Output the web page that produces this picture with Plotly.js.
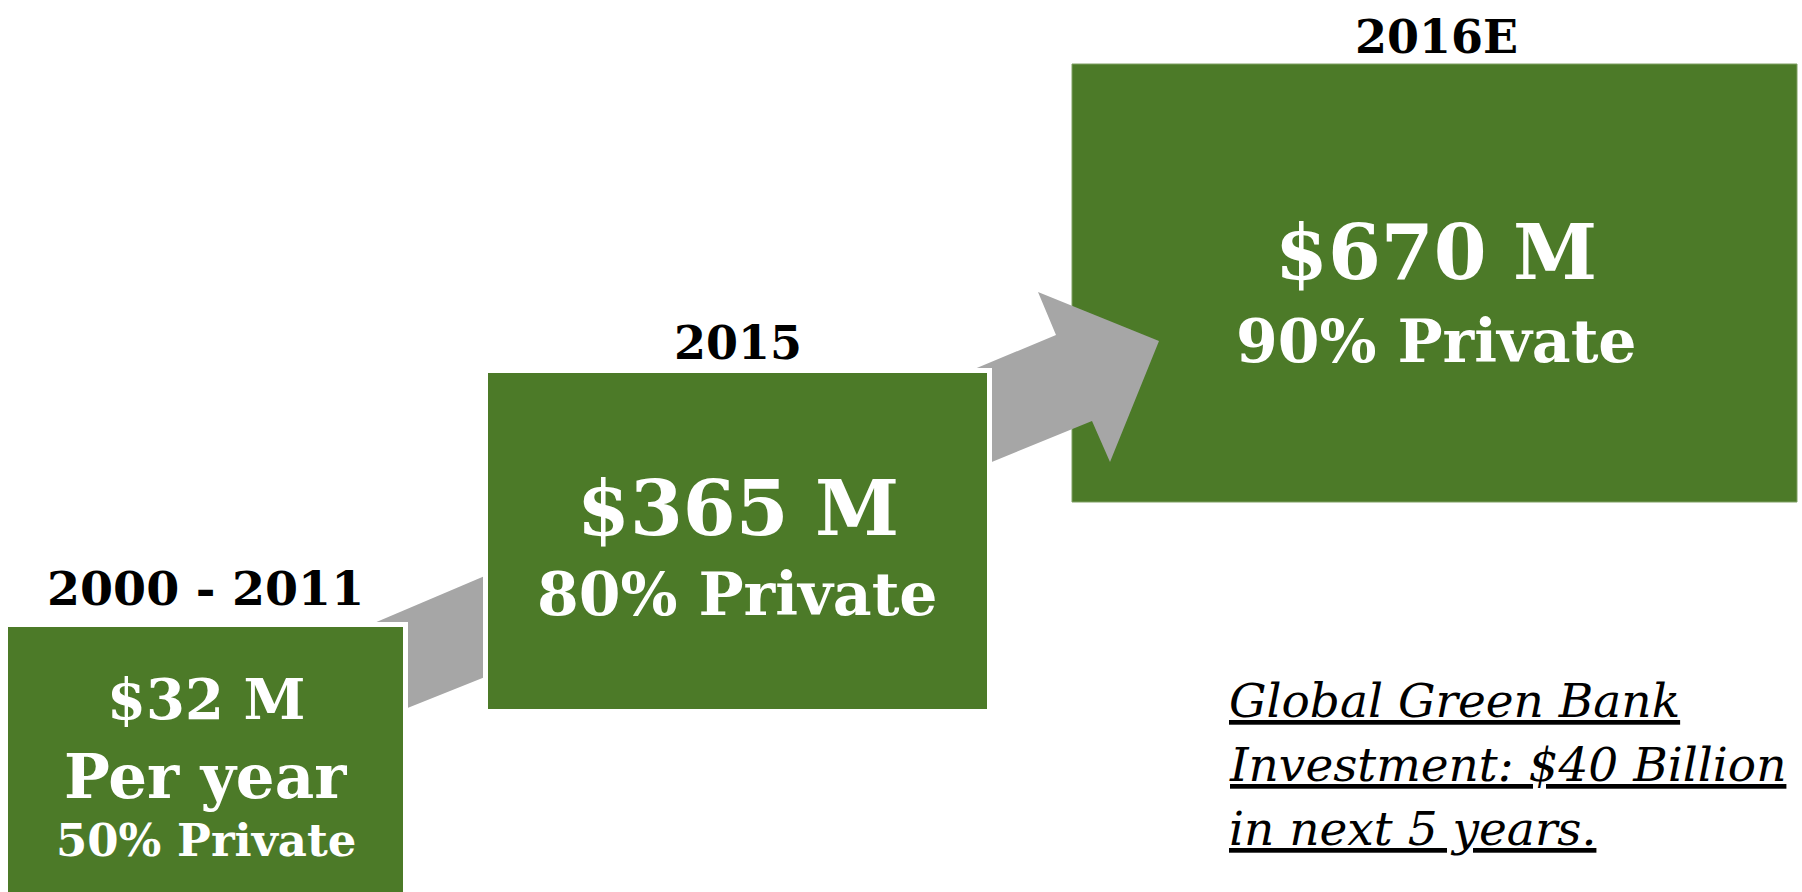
<!DOCTYPE html>
<html>
<head>
<meta charset="utf-8">
<script src="https://cdn.plot.ly/plotly-3.0.1.min.js"></script>
<style>
html, body { margin: 0; padding: 0; background: #fff; }
#plot { width: 1802px; height: 892px; }
</style>
</head>
<body>
<div id="plot"></div>
<script>
//////// DATA ////////
var periods = ['2000 - 2011', '2015', '2016E'];
var amounts = [32, 365, 670];          // $ M
var amountNotes = ['Per year', '', ''];
var privateShares = [50, 80, 90];      // % private
var footnoteLines = ['Global Green Bank', 'Investment: $40 Billion', 'in next 5 years.'];

//////// LAYOUT STUFF (pixels, y runs downward) ////////
var boxLeft = [5.5, 485.5, 1072];
var boxRight = [405.5, 989.5, 1797];
var boxTop = [624.5, 370.5, 64];
var boxBottom = [900, 711.5, 502];
var boxLine = [5, 5, 1];

var headingY = [588, 343, 37];
var headingSize = [47.5, 46, 46];
var amountY = [699, 508, 252];
var noteY = [776, 0, 0];
var shareY = [840, 594, 341];
var amountSize = [56, 76, 76];
var shareSize = [45, 60, 60];

// connector arrows (box 1 -> box 2 and box 2 -> box 3)
var arrow1X = [360, 520, 520, 360];
var arrow1Y = [629, 561, 663, 727];
var arrow2X = [960, 1056, 1038, 1159, 1110, 1092, 960];
var arrow2Y = [375, 335, 292, 341, 462, 421, 475];

var green = '#4c7a28';
var grey = '#a6a6a6';
var serif = 'Georgia, "DejaVu Serif", serif';

function polyPath(xs, ys) {
    var p = '';
    for (var i = 0; i < xs.length; i++) {
        p += (i === 0 ? 'M' : 'L') + xs[i] + ',' + ys[i] + ' ';
    }
    return p + 'Z';
}

function boxShape(i) {
    return {
        type: 'rect', xref: 'x', yref: 'y',
        x0: boxLeft[i], x1: boxRight[i], y0: boxTop[i], y1: boxBottom[i],
        fillcolor: green,
        line: {color: i === 2 ? '#7f9f63' : '#ffffff', width: boxLine[i]}
    };
}

function arrowShape(xs, ys) {
    return {
        type: 'path', xref: 'x', yref: 'y',
        path: polyPath(xs, ys),
        fillcolor: grey,
        line: {width: 0}
    };
}

// draw order: big box, arrows, then the two boxes that cover the arrow tails
var shapes = [
    boxShape(2),
    arrowShape(arrow1X, arrow1Y),
    arrowShape(arrow2X, arrow2Y),
    boxShape(0),
    boxShape(1)
];

function label(x, y, text, size, color, extra) {
    var a = {
        x: x, y: y, xref: 'x', yref: 'y',
        text: text, showarrow: false,
        xanchor: 'center', yanchor: 'middle',
        font: {family: serif, size: size, color: color}
    };
    for (var k in extra) a[k] = extra[k];
    return a;
}

var annotations = [];
for (var i = 0; i < periods.length; i++) {
    var cx = (boxLeft[i] + boxRight[i]) / 2;
    if (i === 2) cx = 1436;
    annotations.push(label(cx, headingY[i], '<b>' + periods[i] + '</b>', headingSize[i], '#000000'));
    annotations.push(label(cx, amountY[i], '<b>$' + amounts[i] + ' M</b>', amountSize[i], '#ffffff'));
    if (amountNotes[i]) {
        annotations.push(label(cx, noteY[i], '<b>' + amountNotes[i] + '</b>', 61, '#ffffff'));
    }
    annotations.push(label(cx, shareY[i], '<b>' + privateShares[i] + '% Private</b>', shareSize[i], '#ffffff'));
}

var footY = [700, 764, 828];
for (var j = 0; j < footnoteLines.length; j++) {
    annotations.push(label(1227, footY[j], '<i><u>' + footnoteLines[j] + '</u></i>', 47, '#000000',
        {xanchor: 'left'}));
}

var data = [];

var layout = {
    width: 1802,
    height: 892,
    margin: {l: 0, r: 0, t: 0, b: 0},
    paper_bgcolor: '#ffffff',
    plot_bgcolor: '#ffffff',
    showlegend: false,
    xaxis: {range: [0, 1802], visible: false, fixedrange: true},
    yaxis: {range: [892, 0], visible: false, fixedrange: true},
    shapes: shapes,
    annotations: annotations
};

Plotly.newPlot('plot', data, layout, {displayModeBar: false, staticPlot: true});
</script>
</body>
</html>
